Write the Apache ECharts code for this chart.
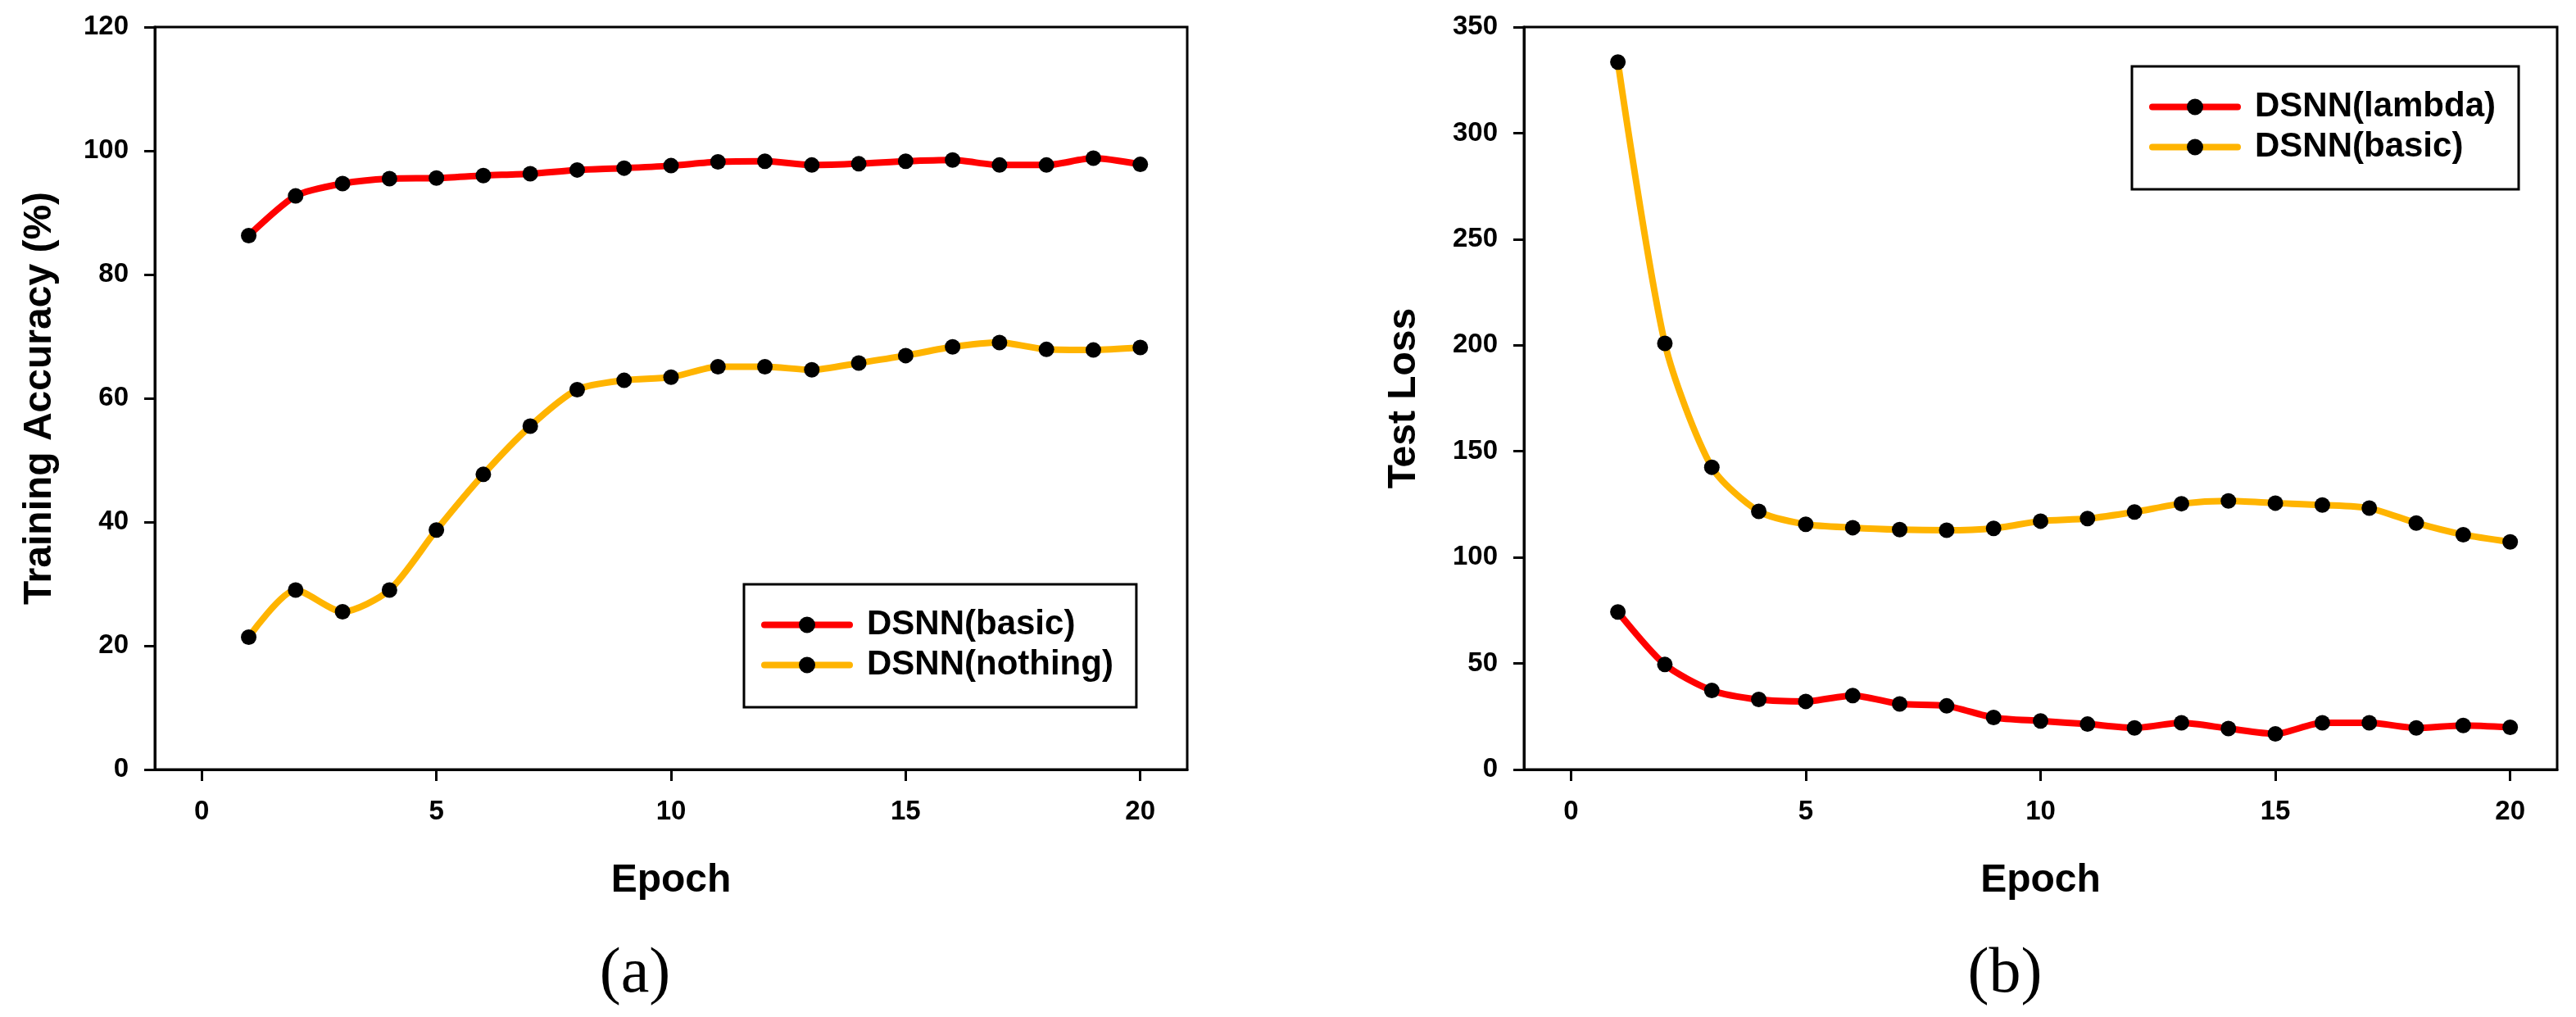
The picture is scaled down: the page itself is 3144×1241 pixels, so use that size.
<!DOCTYPE html>
<html>
<head>
<meta charset="utf-8">
<title>DSNN training curves</title>
<script src="https://cdn.jsdelivr.net/npm/echarts@6/dist/echarts.min.js"></script>
<style>
  html, body { margin: 0; padding: 0; background: #fff; }
  #charts { width: 3144px; height: 1241px; }
</style>
</head>
<body>
<div id="charts"></div>
<script>
// epochs on the x axis
var epochs = [1, 2, 3, 4, 5, 6, 7, 8, 9, 10, 11, 12, 13, 14, 15, 16, 17, 18, 19, 20];
var xTicks = [0, 5, 10, 15, 20];

// (a) training accuracy (%)
var accBasic = [86.3, 92.7, 94.7, 95.5, 95.6, 96.0, 96.3, 96.9, 97.2, 97.6,
                98.2, 98.3, 97.7, 97.9, 98.3, 98.5, 97.7, 97.7, 98.8, 97.8];
var accNothing = [21.4, 29.0, 25.5, 29.0, 38.7, 47.7, 55.5, 61.4, 62.9, 63.4,
                  65.1, 65.1, 64.6, 65.7, 66.9, 68.3, 69.0, 67.9, 67.8, 68.2];

// (b) test loss
var lossLambda = [74.3, 49.5, 37.3, 33.0, 32.1, 34.9, 30.9, 30.0, 24.5, 22.9,
                  21.4, 19.6, 22.0, 19.3, 16.8, 22.0, 22.0, 19.6, 20.8, 19.9];
var lossBasic = [333.5, 200.9, 142.5, 121.7, 115.6, 114.0, 113.1, 112.8, 113.7, 117.1,
                 118.3, 121.4, 125.3, 126.6, 125.6, 124.7, 123.2, 116.2, 110.7, 107.3];

var RED = '#FF0000';
var GOLD = '#FFB400';
var FONT = 'Liberation Sans, Arial, sans-serif';

var myChart = echarts.init(document.getElementById('charts'));

function pairs(ys) {
    return epochs.map(function (x, i) { return [x, ys[i]]; });
}

/*
 ** one line series with black dots
 */
function lineSeries(name, ys, color, idx) {
    return {
        name: name,
        type: 'line',
        xAxisIndex: idx,
        yAxisIndex: idx,
        data: pairs(ys),
        smooth: 0.25,
        symbol: 'circle',
        symbolSize: 19,
        itemStyle: { color: '#000' },
        lineStyle: { color: color, width: 8, cap: 'round' }
    };
}

function xAxisOpt(idx) {
    return {
        type: 'value',
        gridIndex: idx,
        min: -1,
        max: 21,
        name: 'Epoch',
        nameLocation: 'middle',
        nameGap: 112,
        nameTextStyle: { fontFamily: FONT, fontWeight: 'bold', fontSize: 48, color: '#000' },
        axisLine: { show: true, onZero: false, lineStyle: { color: '#000', width: 3 } },
        axisTick: { show: true, length: 14, customValues: xTicks, lineStyle: { color: '#000', width: 3 } },
        axisLabel: { customValues: xTicks, margin: 35, fontFamily: FONT, fontWeight: 'bold', fontSize: 33, color: '#000' },
        splitLine: { show: false }
    };
}

function yAxisOpt(idx, name, max, step, gap) {
    return {
        type: 'value',
        gridIndex: idx,
        min: 0,
        max: max,
        interval: step,
        name: name,
        nameLocation: 'middle',
        nameGap: gap,
        nameTextStyle: { fontFamily: FONT, fontWeight: 'bold', fontSize: 48, color: '#000' },
        axisLine: { show: true, onZero: false, lineStyle: { color: '#000', width: 3 } },
        axisTick: { show: true, length: 13, lineStyle: { color: '#000', width: 3 } },
        axisLabel: { margin: 32, fontFamily: FONT, fontWeight: 'bold', fontSize: 33, color: '#000' },
        splitLine: { show: false }
    };
}

function legendOpt(idx, names, left, top) {
    return {
        data: names,
        orient: 'vertical',
        left: left,
        top: top,
        seriesIndex: idx,
        itemWidth: 104,
        itemHeight: 25,
        itemGap: 0,
        padding: [25, 28, 27, 21],
        borderColor: '#000',
        borderWidth: 3,
        backgroundColor: '#fff',
        selectedMode: false,
        lineStyle: { width: 8, cap: 'round' },
        textStyle: { fontFamily: FONT, fontWeight: 'bold', fontSize: 42, color: '#000', lineHeight: 49, padding: [0, 0, 0, 16] }
    };
}

var option = {
    animation: false,
    backgroundColor: '#fff',
    grid: [
        { left: 189, right: 1695, top: 33, bottom: 302, show: true, borderColor: '#000', borderWidth: 3 },
        { left: 1860, right: 23, top: 33, bottom: 302, show: true, borderColor: '#000', borderWidth: 3 }
    ],
    xAxis: [xAxisOpt(0), xAxisOpt(1)],
    yAxis: [
        yAxisOpt(0, 'Training Accuracy (%)', 120, 20, 116),
        yAxisOpt(1, 'Test Loss', 350, 50, 122)
    ],
    legend: [
        legendOpt(0, ['DSNN(basic)', 'DSNN(nothing)'], 908, 713),
        legendOpt(1, ['DSNN(lambda)', 'DSNN(basic) '], 2602, 81)
    ],
    series: [
        lineSeries('DSNN(basic)', accBasic, RED, 0),
        lineSeries('DSNN(nothing)', accNothing, GOLD, 0),
        lineSeries('DSNN(lambda)', lossLambda, RED, 1),
        lineSeries('DSNN(basic) ', lossBasic, GOLD, 1)
    ],
    graphic: [
        { type: 'text', x: 775, y: 1190, style: { text: '(a)', font: '78px "Liberation Serif", serif', fill: '#000', align: 'center', verticalAlign: 'middle' } },
        { type: 'text', x: 2447, y: 1190, style: { text: '(b)', font: '78px "Liberation Serif", serif', fill: '#000', align: 'center', verticalAlign: 'middle' } }
    ]
};

myChart.setOption(option);
</script>
</body>
</html>
